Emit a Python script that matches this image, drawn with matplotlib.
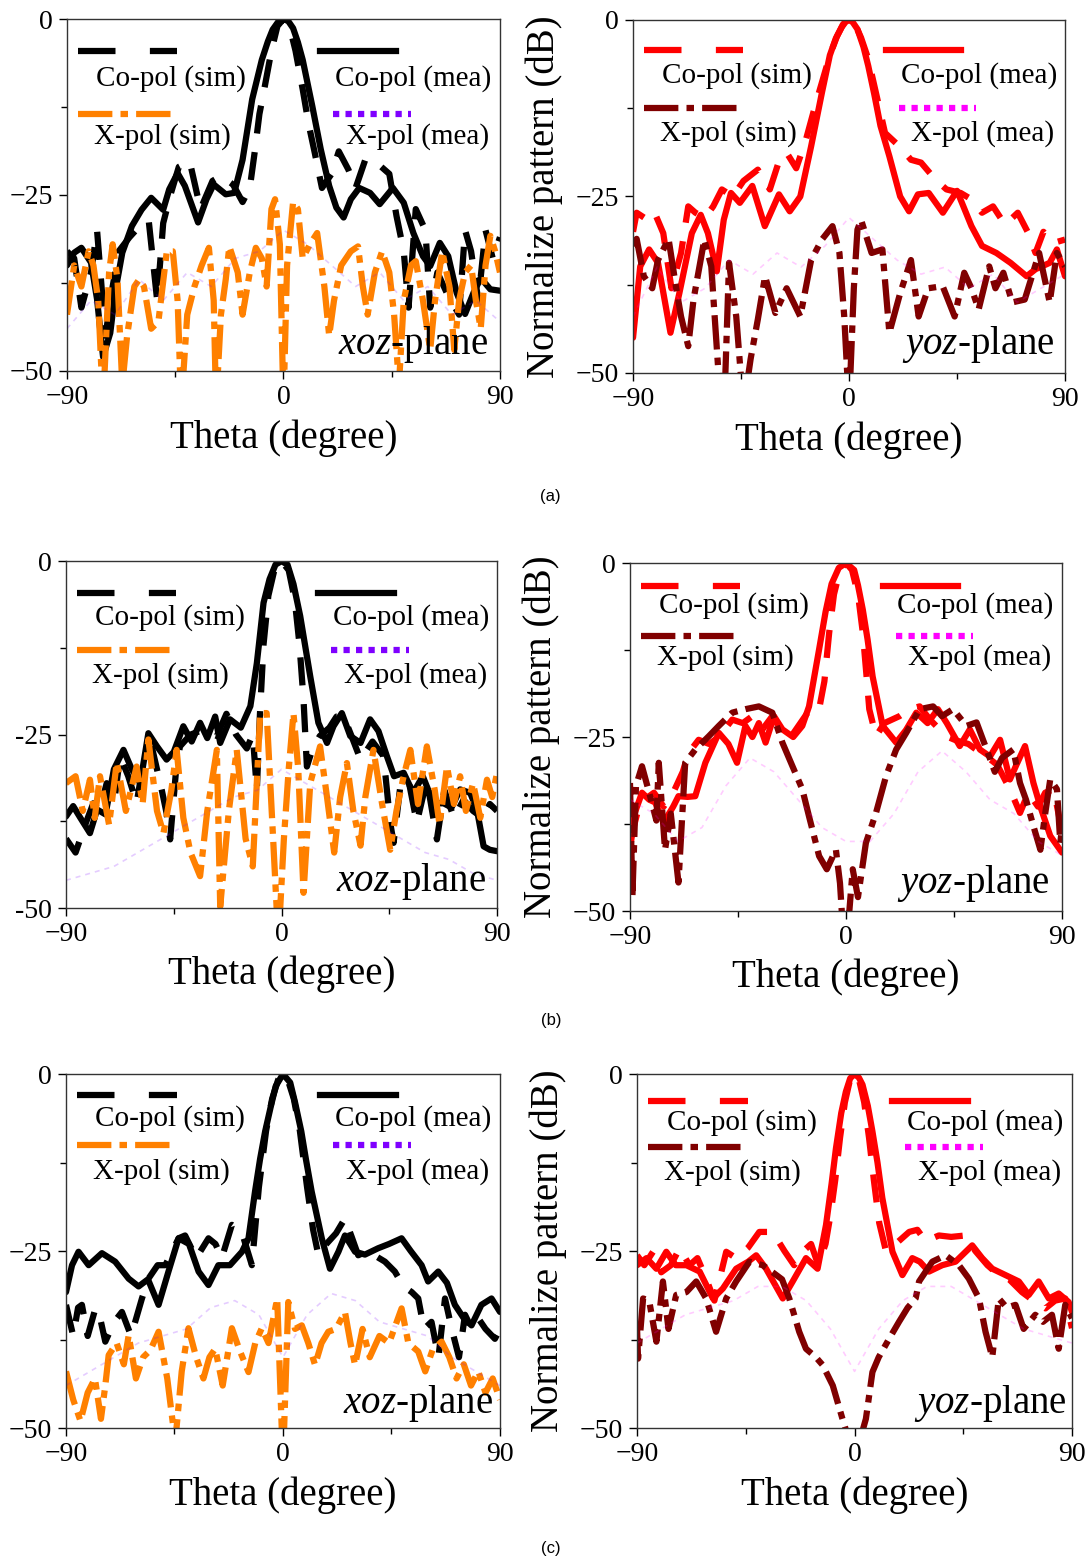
import matplotlib.pyplot as plt
from matplotlib.ticker import MultipleLocator

plt.rcParams['font.family'] = 'Liberation Serif'
plt.rcParams['mathtext.fontset'] = 'custom'
plt.rcParams['mathtext.rm'] = 'Liberation Serif'
plt.rcParams['mathtext.it'] = 'Liberation Serif:italic'

# -----------------------------
# data (dB vs theta in degree)
# -----------------------------

# (a) xoz-plane
a_xoz_co_mea_th = [-90, -87, -84, -80, -77.5, -75, -72, -70, -67, -63, -59, -55, -50, -47.5, -44, -41, -35.5, -32, -29, -24,
                   -20.5, -17, -13, -9, -6.5, -4.5, -2, 0, 2, 4, 6, 8, 12, 15.5, 19, 22, 25, 28, 31.5, 36,
                   40, 45.5, 50, 54, 58, 61, 65, 68.5, 72, 75.5, 79, 82, 86, 90]
a_xoz_co_mea_db = [-35, -33.2, -32.5, -34.6, -39.8, -48, -44.6, -38.9, -33.2, -29.4, -27.1, -25.4, -27.1, -24.2, -21.9, -23.7, -28.9, -25.6, -23.5, -24.9,
                   -24.7, -20, -11.4, -5.8, -3.2, -1.5, -0.3, 0, -0.3, -1.3, -3.3, -5.8, -12.4, -18.5, -23.7, -26.8, -28.2, -25.6, -24, -24.7,
                   -26.3, -24, -26.1, -30.4, -33.7, -35.1, -31.8, -33.7, -38.9, -41.9, -38.9, -36.8, -38.4, -38.6]
a_xoz_co_sim_th = [-90, -87, -84, -80, -77.5, -74, -71, -68.5, -64, -60, -56, -52.5, -50, -47, -43.5, -39, -34.5, -29.5, -26, -21,
                   -17, -14, -12, -10, -8, -5, -2.5, 0, 2.5, 5, 8, 10.5, 13, 16, 20, 23, 27, 30, 34, 39,
                   44, 47, 50, 52, 55, 59, 61, 64, 68, 73, 75.5, 78, 81, 84, 87, 90]
a_xoz_co_sim_db = [-33, -34, -41, -36, -30, -45, -38, -33, -31, -29.5, -28.7, -40, -29, -25, -21, -20.2, -27, -23, -22.3, -23.5,
                   -26, -24, -19, -13.5, -10, -4.5, -1, 0, -1, -4.5, -10, -15, -19, -24, -22, -18.8, -21.4, -24, -20, -20.5,
                   -22, -28, -33, -41, -27, -30, -41, -36, -39, -42, -30, -33, -40, -30, -34, -31]
a_xoz_x_sim_th = [-90, -87, -84, -81, -79, -77, -75, -72.5, -71, -69, -67, -65, -62, -60, -58, -55, -52, -48.5, -46, -44,
                  -42.5, -40, -37, -34, -31, -29, -28, -26, -24, -22.5, -19, -17, -14, -11.5, -9, -7, -5, -3.5, -1.5, 0,
                  1.5, 4, 6, 8, 11, 14, 17, 19, 21, 24, 28, 31, 33, 35, 38, 41, 44, 46, 48, 50,
                  53, 55, 58, 61, 63, 66, 69, 71, 73, 75.5, 78, 80, 82, 84, 86, 88, 90]
a_xoz_x_sim_db = [-42, -35, -38, -33, -35, -40, -55, -36, -32, -37, -52, -45, -38, -37, -38, -44, -43, -33, -33, -40,
                  -55, -42, -38, -35, -32.5, -40, -55, -42, -37, -32.3, -36, -42, -36, -32.5, -34, -38, -27, -25.6, -32, -55,
                  -35, -26, -27, -34, -32, -30.4, -38, -45, -40, -35, -33, -32.3, -38, -42, -36, -33, -36, -42, -52, -40,
                  -35, -34.4, -40, -47, -40, -33, -38, -47, -40, -36, -35, -40, -44, -35, -30.8, -33, -36]

# (a) yoz-plane
a_yoz_co_mea_th = [-90, -87, -83.3, -79.6, -74.4, -70.7, -65.5, -61.8, -58.8, -55.1, -52.2, -49.2, -45.5, -40.3, -35.1, -29.2, -24.7, -20.3, -15.8, -11.3,
                   -8, -5.5, -3, -1.5, 0, 1.5, 3.5, 6, 8, 10.5, 13.1, 16.8, 21.3, 25, 28.7, 33.2, 39.1, 45, 51, 55.4,
                   61.4, 67.3, 74, 77.7, 83.6, 86.6, 90]
a_yoz_co_mea_db = [-45, -34.9, -32.5, -34.4, -44.3, -38.7, -30.2, -27.6, -30.2, -35.6, -28.3, -24.5, -25.9, -23.5, -29.2, -24.7, -27.1, -25, -17.9, -10.3,
                   -5, -2.6, -1, -0.3, 0, -0.3, -1.3, -3.8, -6.5, -10.5, -15, -19.3, -25, -27.1, -24.7, -24.5, -27.3, -24.2, -29.2, -32,
                   -33, -34.4, -36.3, -35.3, -34.4, -32.5, -36.3]
a_yoz_co_sim_th = [-90, -88.5, -84, -81, -77.4, -74, -70, -67, -64, -60, -56.6, -53, -48.4, -44, -38, -33, -29, -26, -22, -18,
                   -14, -11, -8, -5, -2.5, 0, 2.5, 5, 8, 11, 15, 21, 25.8, 30, 36, 40.6, 46.5, 51, 55.4, 60,
                   65, 70.3, 74.7, 77.7, 81, 85, 90]
a_yoz_co_sim_db = [-30, -27.3, -28.3, -27.3, -30.2, -38, -33, -26.4, -27.3, -28, -26.4, -24, -25, -22.8, -21.2, -24, -19.8, -18.8, -21, -17,
                   -12, -8.5, -5, -2.3, -0.6, 0, -0.6, -2.5, -5.5, -10, -16, -17.9, -19.8, -20.2, -22.6, -24, -24.5, -25.4, -27.3, -26.4,
                   -29, -27.3, -30.2, -33, -30, -31.6, -31.1]
a_yoz_x_sim_th = [-90, -88.5, -85.5, -82, -79.6, -75.2, -72, -70, -67, -64.8, -60.3, -57.4, -54.4, -52, -50, -47, -44, -41, -38, -35,
                  -30.7, -26, -20.3, -15.8, -11.3, -6.9, -4, -2, 0, 2, 3.5, 5, 9.4, 13.9, 16.8, 21.3, 25.8, 29, 33, 39,
                  44, 48, 51, 54, 58.4, 61, 64.3, 68, 73.2, 79.2, 83.6, 86.6, 90]
a_yoz_x_sim_db = [-32, -31, -36.3, -38, -34, -31, -38, -42, -46.2, -39.6, -31.1, -34.9, -50, -55, -34.4, -42, -55, -48, -42.4, -36.3,
                  -41.5, -38, -42, -34, -31.1, -29.2, -33, -42, -55, -38, -29.7, -28.3, -33, -32.5, -44.3, -38.7, -34, -42, -38, -37.7,
                  -42, -35.8, -38, -41, -34.9, -38, -35.8, -40, -39.6, -33, -40, -33, -34.9]

# (b) xoz-plane
b_xoz_co_mea_th = [-90, -87, -84, -80, -77, -73.5, -70, -66, -62.5, -59, -55.6, -52, -48, -45, -41, -37.5, -34, -31, -27.7, -25.6,
                   -21.5, -17, -13, -10.3, -7.5, -5, -2.5, 0, 2.5, 5, 7.8, 12, 15.4, 19, 21.7, 25.2, 28.7, 33, 37, 40.5,
                   44, 47, 51, 55, 59, 63.5, 67.7, 71, 74.6, 78.8, 81.6, 84.4, 87, 90]
b_xoz_co_mea_db = [-36.8, -35.3, -37, -39.2, -35.8, -36.5, -30, -27.2, -30, -32, -24.8, -26.7, -28.6, -27.5, -23.8, -26, -23.3, -25.5, -22.4, -26.2,
                   -22.8, -24, -20.9, -14.7, -6, -2.6, -0.5, 0, -0.5, -3.3, -7.9, -16.6, -23.3, -26.2, -23.8, -21.9, -25.2, -26.2, -22.8, -24.5,
                   -28.1, -31, -30.5, -33.4, -31, -34.9, -34.9, -35.5, -32.9, -33.4, -35.8, -41.1, -41.6, -41.8]
b_xoz_co_sim_th = [-90, -86, -82, -78.6, -76, -73, -70, -67.4, -64, -60.5, -57.7, -54, -50, -48, -46.5, -44, -42.4, -38, -32.6, -27,
                   -23, -19, -14.5, -12, -10.3, -9, -7.5, -5.5, -3, 0, 3, 5.5, 7.5, 9.2, 10.6, 13, 16, 20, 23, 26,
                   29, 33, 38, 42.6, 45.4, 46.8, 49.6, 53, 56.5, 60.7, 64.9, 68, 72, 76, 80, 84, 87, 90]
b_xoz_co_sim_db = [-40, -42, -38, -34.9, -36, -32, -35, -28.1, -31, -34.9, -29, -27, -33, -36.3, -40.1, -30, -26.7, -25, -24.3, -25.2,
                   -22, -25, -27, -25, -33, -22, -12, -5, -1.3, 0, -1.3, -5.5, -12, -20, -29.6, -27, -25.2, -24, -22.4, -22.4,
                   -25, -28.6, -26, -28.1, -37.7, -40.6, -32.5, -31.5, -37.7, -31.5, -40.1, -33, -37, -34.4, -36, -37, -35, -36]
b_xoz_x_sim_th = [-90, -86, -83, -80, -78, -75.8, -72, -68.8, -65, -60.5, -58, -55.6, -52, -49.3, -46, -43.8, -41, -38, -34, -31,
                  -27, -25.6, -22, -18.7, -15, -12, -8.9, -6.2, -3.5, -1.3, 1, 3, 5, 7, 9.2, 12, 16.1, 19, 22, 24.5,
                  27.3, 30, 33, 35, 38.4, 42, 45.4, 48, 51, 53.8, 57, 60.7, 64, 66, 69.1, 72, 74.6, 77, 80, 83,
                  85.8, 88, 90]
b_xoz_x_sim_db = [-32, -31, -36, -31.5, -37, -31, -38, -29, -36, -29.6, -35, -25.7, -36, -39.2, -33, -27.2, -37, -42, -45.4, -36,
                  -27.2, -49.8, -36, -27.2, -40, -44, -21.9, -21.9, -40, -55, -40, -30, -21.9, -30, -47.8, -32, -26.7, -34, -42, -34,
                  -29.1, -36, -41, -34, -27.2, -35, -41.6, -36, -31, -27.2, -35, -26.7, -33, -38, -29.6, -35, -31, -36, -32, -37,
                  -31.5, -34, -30.5]

# (b) yoz-plane
b_yoz_co_mea_th = [-90, -88, -85, -82, -79.5, -76, -72, -69.8, -66, -62.8, -58.6, -53, -49, -45.4, -41.9, -39, -36.3, -33.5, -30, -26.5,
                   -22, -18.2, -15.4, -11.2, -8.5, -6, -3, 0, 3.4, 5, 7, 9, 11.1, 15.3, 20.9, 25, 29.3, 34, 38.3, 42,
                   47.4, 51.6, 55.8, 60, 64.2, 68.3, 71, 74.6, 78.1, 81, 85.1, 90]
b_yoz_co_mea_db = [-41.2, -35.9, -33, -34, -34.4, -37.3, -35, -33.5, -33.6, -33.5, -28.7, -24.4, -26, -28.7, -23.4, -25, -23, -25.8, -22, -23.9,
                   -25, -23.4, -20.6, -12.4, -7, -3, -0.7, 0, -1, -3.2, -6.7, -11, -16.3, -23.4, -25.8, -24, -21.5, -23, -21, -23,
                   -26.3, -23.9, -26.8, -27.8, -25.4, -31.1, -29, -26.3, -31.6, -35, -39.2, -41.6]
b_yoz_co_sim_th = [-90, -87, -84, -80, -76, -72, -68, -65.6, -61.4, -57, -53, -47.4, -43, -39, -35, -30.7, -27, -23, -19, -15,
                   -11.2, -9, -7, -5, -2.5, 0, 2.5, 5, 7, 8.5, 9.7, 12.5, 16, 22.3, 26.5, 30.7, 35, 41.8, 46, 51,
                   55, 58.6, 63, 68.3, 72.5, 76, 80, 83, 86.5, 89.3]
b_yoz_co_sim_db = [-40, -36, -34, -33, -35, -33, -30, -27.3, -25.4, -26, -25, -22.5, -23, -22, -24, -22, -24, -25, -23, -21,
                   -21, -17, -10, -4.5, -1, 0, -1, -4.5, -10, -16, -21, -24.9, -23, -22, -21, -20.6, -22.5, -24.9, -25.5, -26,
                   -27, -27.8, -29, -32.5, -35.9, -33, -35, -33, -32.5, -37.3]
b_yoz_x_sim_th = [-90, -89, -87.5, -85, -82, -79, -78, -75.4, -73, -69.8, -67, -62.8, -57.2, -53, -47.4, -41.9, -36.3, -30.7, -26.5, -22.3,
                  -18.2, -15.4, -11.2, -8, -4.2, -2.5, -1.4, 1.4, 2.8, 5, 8.3, 12.5, 16.7, 20.9, 25.1, 30.7, 36.3, 40, 44.6, 50.2,
                  54.4, 58.6, 62, 65, 69.7, 72.5, 75, 78.1, 81, 83, 85.1, 87.9, 89.3, 90]
b_yoz_x_sim_db = [-31.6, -48, -32, -29.2, -33, -37, -28.7, -41.2, -36, -45.9, -28.7, -26.8, -24.9, -23.4, -21.5, -21, -20.6, -21.5, -25.8, -29.2,
                  -32.5, -36.4, -42.1, -44, -41.2, -46, -52, -50, -44, -48, -40.2, -35.9, -30.6, -26.8, -24.4, -21, -20.6, -22, -21, -23.4,
                  -22.9, -26.8, -30, -28, -26.8, -31.6, -34, -37.8, -41.2, -36, -31.1, -32.5, -40.2, -38]

# (c) xoz-plane
c_xoz_co_mea_th = [-90, -87.5, -84.8, -80.6, -75.1, -69.6, -64, -59.9, -56, -51.6, -47.5, -43.3, -39, -35, -30.9, -26.8, -22, -17, -14.3, -11.6,
                   -9.5, -7.4, -5, -3, 0, 3, 5, 7.6, 9.5, 11.9, 16.1, 19.5, 23, 25.7, 29.9, 34, 39.5, 44, 49.2, 53,
                   57.5, 60.2, 64.4, 68, 71.3, 75, 78.2, 82.3, 86.5, 90]
c_xoz_co_mea_db = [-30.8, -27, -25.1, -27, -25.3, -26.5, -28.9, -30, -29, -32.6, -27.9, -23.2, -24, -27.9, -29.8, -27, -27, -25.1, -23.2, -16.6,
                   -12, -8.1, -4.5, -1.7, 0, -1.2, -4, -8.1, -12, -16.6, -23.2, -27.5, -25.1, -22.8, -25.1, -25.5, -24.6, -24, -23.2, -25,
                   -27, -29.3, -27.9, -29.5, -32.6, -34.5, -35.5, -32.6, -31.7, -33.6]
c_xoz_co_sim_th = [-90, -87, -85, -83.4, -81, -77.8, -75.5, -73.7, -70, -66.8, -63, -58.5, -55.8, -52, -48.8, -43.3, -40.6, -36, -30.9, -28,
                   -25.4, -21.2, -17.1, -12.9, -10, -7, -4.5, -2, 0, 2, 4.5, 7, 10, 12.5, 14.7, 18, 22, 25.7, 28.5, 31.2,
                   35, 42.3, 46.4, 50, 53.4, 56.1, 58.5, 61.6, 64.5, 67.2, 70, 73, 75.5, 78.2, 81, 84, 87.9, 90]
c_xoz_co_sim_db = [-32.6, -37, -33, -32.6, -37, -33.1, -35, -37.8, -35, -33.6, -37, -31.7, -28.9, -27, -27, -23.2, -22.8, -26, -23.2, -24,
                   -26, -21.3, -22.3, -27, -16, -8, -3.5, -0.8, 0, -0.8, -3.5, -8, -16, -22, -25.6, -24, -22.5, -20.4, -23, -25.6,
                   -25, -26.5, -27.9, -30, -30.8, -31.7, -36, -35, -40, -31.7, -36, -40, -34, -35.9, -34.5, -36, -37.4, -36]
c_xoz_x_sim_th = [-90, -87, -84, -81, -78, -75.5, -73.7, -72.3, -69, -66, -64, -61, -58, -55, -51.6, -48, -44.7, -42, -39.2, -36,
                  -33, -30.5, -28.1, -25, -21.2, -18, -14.3, -11.5, -8.8, -6, -2.4, 0, 2.2, 5, 7.8, 10.5, 13.3, 16, 18.8, 22,
                  25.7, 28, 29.9, 33, 36, 40, 44, 49.2, 52, 56.1, 59, 62, 65.8, 69, 72, 75, 78, 81, 84, 87,
                  90]
c_xoz_x_sim_db = [-42, -46, -49, -45, -43, -48.7, -44, -39.7, -38, -41, -36.9, -43, -40, -39, -36.4, -43, -52, -42, -35.9, -40,
                  -43, -40, -38.8, -44, -35.9, -39, -42.1, -38, -35.9, -38, -31.7, -55, -32.2, -36, -35.5, -38, -41.1, -38, -36.4, -36,
                  -33.6, -38, -41.1, -36, -40, -37, -38, -33.1, -38, -39.2, -42, -39, -37.8, -40, -43, -41, -44, -42, -45, -43,
                  -46]

# (c) yoz-plane
c_yoz_co_mea_th = [-90, -86.1, -82, -77.9, -74, -69.6, -64.1, -58.6, -54.5, -49, -44, -40.7, -36.6, -29.7, -25.6, -20.1, -15.3, -11.8, -9.5, -7.7,
                   -5.5, -3.6, -1.8, 0, 1.8, 3.3, 5.5, 7.4, 9.5, 11.5, 15.7, 19.8, 23.9, 27, 30.8, 36.3, 41.8, 48.7, 52.8, 57,
                   62.5, 68, 72.1, 76.2, 80.4, 84.5, 88.6, 90]
c_yoz_co_mea_db = [-27, -26, -27.5, -25.1, -27, -27, -27.9, -31.7, -30.3, -27.5, -26.5, -25.6, -27.5, -31.7, -29.3, -26, -27.5, -21.3, -15.5, -10.5,
                   -5.5, -2.5, -0.6, 0, -0.5, -1.5, -4.5, -8.1, -12.5, -17.5, -25.1, -28.4, -26, -26.5, -27.9, -27, -26.5, -24.2, -26, -27.5,
                   -28.4, -29.3, -31.2, -29.3, -31.7, -31, -32.2, -33.6]
c_yoz_co_sim_th = [-90, -87, -83.4, -80, -76, -72.4, -68.3, -65, -61.4, -58, -53.1, -49, -44, -39.4, -33.9, -29, -25, -21.5, -18, -15,
                   -12, -10, -8, -6, -4, -2, 0, 2, 4, 6, 8, 10.2, 13, 17, 22.6, 26, 29.4, 34.9, 40, 45.9,
                   50, 55, 59.7, 64, 69.3, 74, 79, 83, 87.2, 90]
c_yoz_co_sim_db = [-25.6, -27, -25.1, -28, -27, -24.6, -27, -26, -28.9, -32, -25.1, -26, -24.5, -22.3, -22.3, -25, -27, -25.1, -24, -27,
                   -24, -20, -15, -9, -4, -1, 0, -1, -4, -9, -15, -21, -25, -24, -22.3, -22, -23.6, -22.8, -23, -22.8,
                   -25, -27, -28.4, -29, -30.8, -32, -33.1, -32, -31.7, -35.9]
c_yoz_x_sim_th = [-90, -89.6, -87.5, -85, -82, -79.3, -77, -73.8, -69.6, -65.5, -61.4, -57.3, -53.1, -49, -43.5, -38, -33.9, -30, -27, -22.9,
                  -20.1, -16, -13.2, -9, -5, -2, 0, 2, 4.7, 7.4, 10, 14.3, 18.4, 22, 25.3, 26.7, 32.2, 37.7, 43.2, 47.3,
                  51.5, 54.2, 57, 59.7, 63, 66.6, 70, 74.8, 78, 81.7, 84.5, 87.2, 90]
c_yoz_x_sim_db = [-36, -40.2, -31.7, -32, -37.8, -29.3, -36, -31.2, -30.8, -29.3, -31.7, -36.4, -31.7, -29.3, -26.5, -27, -28, -29, -31.7, -36.4,
                  -38.8, -40, -41.1, -44, -48.7, -52, -55, -52, -48.7, -42.1, -40, -37.4, -35, -33, -31.7, -29.3, -26.5, -25.6, -27, -28.9,
                  -31.7, -36.4, -40, -31.7, -33, -32.6, -36, -34, -35, -34, -38.8, -32.6, -34.5]

# measured cross-pol (very faint in the figure)
x_mea_th = [-90, -80, -70, -60, -50, -40, -30, -20, -10, 0, 10, 20, 30, 40, 50, 60, 70, 80, 90]
a_xoz_x_mea_db = [-44, -40, -42, -37, -40, -36, -38, -34, -33, -30, -32, -35, -38, -36, -40, -38, -42, -40, -43]
a_yoz_x_mea_db = [-42, -35, -40, -38, -34, -36, -33, -35, -32, -28, -31, -34, -36, -35, -38, -36, -40, -38, -36]
b_xoz_x_mea_db = [-46, -45, -44, -42, -40, -38, -36, -34, -33, -30, -32, -34, -36, -38, -40, -42, -43, -45, -46]
b_yoz_x_mea_db = [-34, -36, -40, -38, -32, -28, -30, -34, -38, -40, -40, -36, -30, -27, -30, -34, -36, -40, -42]
c_xoz_x_mea_db = [-44, -42, -40, -38, -37, -36, -33, -32, -34, -40, -34, -31, -32, -35, -36, -37, -40, -42, -44]
c_yoz_x_mea_db = [-38, -36, -34, -33, -32, -30, -30, -32, -36, -42, -36, -32, -30, -30, -32, -34, -36, -37, -38]

# -----------------------------
# styles
# -----------------------------
LW = 4.5
DASH = (4.5, 3)
DASHDOT = (5.5, 1.3, 1.2, 1.3)
DOT = (1, 1)


def draw_panel(ax, cm, cs, xs, xm, c_co, c_xs, c_xm, plane, leg_y, plane_xy, ylab=None):
    ax.plot(cm[0], cm[1], color=c_co, lw=LW, solid_capstyle='round', solid_joinstyle='round')
    ax.plot(cs[0], cs[1], color=c_co, lw=LW, dashes=DASH)
    ax.plot(xs[0], xs[1], color=c_xs, lw=LW, dashes=DASHDOT)
    ax.plot(x_mea_th, xm, color=c_xm, lw=1.2, alpha=0.2, dashes=(3, 3))

    ax.set_xlim(-90, 90)
    ax.set_ylim(-50, 0)
    ax.set_xticks([-90, 0, 90])
    ax.set_yticks([-50, -25, 0])
    if ylab is not None:
        ax.set_yticklabels(ylab)
    ax.xaxis.set_minor_locator(MultipleLocator(45))
    ax.yaxis.set_minor_locator(MultipleLocator(12.5))
    ax.tick_params(which='major', direction='out', length=6, width=1, labelsize=20, pad=4)
    ax.tick_params(which='minor', direction='out', length=4, width=1)
    for s in ax.spines.values():
        s.set_linewidth(1)
        s.set_color('#333333')

    ax.set_xlabel('Theta (degree)', fontsize=28)
    ax.xaxis.set_label_coords(0.5, -0.19)
    ax.xaxis.label.set_va('center')

    # hand made legend: sample line above its text
    y1, t1, y2, t2 = leg_y
    tr = ax.transAxes
    ax.plot([0.025, 0.255], [y1, y1], transform=tr, color=c_co, lw=LW, dashes=(6, 5.5), clip_on=False)
    ax.plot([0.585, 0.76], [y1, y1], transform=tr, color=c_co, lw=LW, clip_on=False)
    ax.plot([0.025, 0.245], [y2, y2], transform=tr, color=c_xs, lw=LW, dashes=DASHDOT, clip_on=False)
    ax.plot([0.615, 0.795], [y2, y2], transform=tr, color=c_xm, lw=LW, dashes=DOT, clip_on=False)
    ax.text(0.24, t1, 'Co-pol (sim)', transform=tr, ha='center', va='center', fontsize=21)
    ax.text(0.80, t1, 'Co-pol (mea)', transform=tr, ha='center', va='center', fontsize=21)
    ax.text(0.22, t2, 'X-pol (sim)', transform=tr, ha='center', va='center', fontsize=21)
    ax.text(0.81, t2, 'X-pol (mea)', transform=tr, ha='center', va='center', fontsize=21)

    ax.text(plane_xy[0], plane_xy[1], plane, transform=tr, ha='right', va='center', fontsize=28)


fig = plt.figure(figsize=(10.89, 15.6), dpi=100)

ax_al = fig.add_axes([0.0615, 0.7622, 0.3976, 0.2256])
ax_ar = fig.add_axes([0.5813, 0.7609, 0.3967, 0.2263])
ax_bl = fig.add_axes([0.0606, 0.4179, 0.3958, 0.2224])
ax_br = fig.add_axes([0.5785, 0.4160, 0.3967, 0.2231])
ax_cl = fig.add_axes([0.0606, 0.0846, 0.3985, 0.2269])
ax_cr = fig.add_axes([0.5850, 0.0846, 0.3994, 0.2269])

XOZ = '$xoz$-plane'
YOZ = '$yoz$-plane'

draw_panel(ax_al, (a_xoz_co_mea_th, a_xoz_co_mea_db), (a_xoz_co_sim_th, a_xoz_co_sim_db),
           (a_xoz_x_sim_th, a_xoz_x_sim_db), a_xoz_x_mea_db,
           'black', '#FF8000', '#7F00FF', XOZ, (0.91, 0.83, 0.73, 0.665), (0.972, 0.074))
draw_panel(ax_ar, (a_yoz_co_mea_th, a_yoz_co_mea_db), (a_yoz_co_sim_th, a_yoz_co_sim_db),
           (a_yoz_x_sim_th, a_yoz_x_sim_db), a_yoz_x_mea_db,
           '#FF0000', '#800000', '#FF00FF', YOZ, (0.915, 0.842, 0.75, 0.677), (0.977, 0.08))
draw_panel(ax_bl, (b_xoz_co_mea_th, b_xoz_co_mea_db), (b_xoz_co_sim_th, b_xoz_co_sim_db),
           (b_xoz_x_sim_th, b_xoz_x_sim_db), b_xoz_x_mea_db,
           'black', '#FF8000', '#7F00FF', XOZ, (0.908, 0.836, 0.744, 0.669), (0.974, 0.078),
           ylab=['-50', '-25', '0'])
draw_panel(ax_br, (b_yoz_co_mea_th, b_yoz_co_mea_db), (b_yoz_co_sim_th, b_yoz_co_sim_db),
           (b_yoz_x_sim_th, b_yoz_x_sim_db), b_yoz_x_mea_db,
           '#FF0000', '#800000', '#FF00FF', YOZ, (0.935, 0.878, 0.79, 0.728), (0.972, 0.08))
draw_panel(ax_cl, (c_xoz_co_mea_th, c_xoz_co_mea_db), (c_xoz_co_sim_th, c_xoz_co_sim_db),
           (c_xoz_x_sim_th, c_xoz_x_sim_db), c_xoz_x_mea_db,
           'black', '#FF8000', '#7F00FF', XOZ, (0.94, 0.875, 0.80, 0.724), (0.984, 0.07))
draw_panel(ax_cr, (c_yoz_co_mea_th, c_yoz_co_mea_db), (c_yoz_co_sim_th, c_yoz_co_sim_db),
           (c_yoz_x_sim_th, c_yoz_x_sim_db), c_yoz_x_mea_db,
           '#FF0000', '#800000', '#FF00FF', YOZ, (0.925, 0.864, 0.794, 0.723), (0.989, 0.068))

for ax in (ax_ar, ax_br, ax_cr):
    ax.set_ylabel('Normalize pattern (dB)', fontsize=28)
    ax.yaxis.set_label_coords(-0.205, 0.5)
    ax.yaxis.label.set_va('center')

fig.text(0.505, 1 - 497 / 1560, '(a)', family='Liberation Sans', fontsize=12, ha='center', va='center')
fig.text(0.506, 1 - 1020 / 1560, '(b)', family='Liberation Sans', fontsize=12, ha='center', va='center')
fig.text(0.506, 1 - 1548 / 1560, '(c)', family='Liberation Sans', fontsize=12, ha='center', va='center')

fig.savefig('out.png', dpi=100)
